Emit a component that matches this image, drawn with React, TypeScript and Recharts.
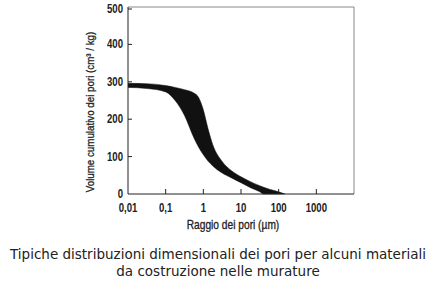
import { ComposedChart, Area, XAxis, YAxis, ReferenceLine } from "recharts";

// pore radius (µm) and the two edges of the cumulative volume band (cm³/kg)
const poreRadius = [0.01, 0.0316, 0.1, 0.178, 0.316, 0.562, 0.75, 1, 1.33, 1.78, 3.16, 5.62, 10, 17.8, 31.6, 40, 56.2, 100, 145];
const volumeLow = [285, 282, 273, 250, 210, 150, 125, 105, 88, 75, 56, 43, 30, 17, 6, 0, 0, 0, 0];
const volumeHigh = [296, 295, 290, 285, 279, 270, 258, 225, 175, 132, 87, 62, 46, 33, 22, 18, 13, 6, 0];

const xTicks = [0.01, 0.1, 1, 10, 100, 1000];
const yTicks = [0, 100, 200, 300, 400, 500];

const data = poreRadius.map((r, i) => ({ r, band: [volumeLow[i], volumeHigh[i]] }));

// Arial Narrow look-alike: Liberation Sans squeezed horizontally
const SANS = "'Liberation Sans', Arial, sans-serif";

function XTick({ x, y, payload }: any) {
  return (
    <g>
      {payload.value !== 0.01 && <line x1={x} x2={x} y1={y} y2={y - 5} stroke="#222" strokeWidth={1} />}
      <text
        transform={`translate(${x},${y + 18}) scale(0.8,1)`}
        textAnchor="middle"
        fontFamily={SANS}
        fontWeight="bold"
        fontSize={12}
        fill="#222"
      >
        {String(payload.value).replace(".", ",")}
      </text>
    </g>
  );
}

function YTick({ x, y, payload }: any) {
  return (
    <g>
      {payload.value !== 0 && <line x1={x} x2={x + 4} y1={y} y2={y} stroke="#222" strokeWidth={1} />}
      <text
        transform={`translate(${x - 5},${y + 4}) scale(0.8,1)`}
        textAnchor="end"
        fontFamily={SANS}
        fontWeight="bold"
        fontSize={12}
        fill="#222"
      >
        {payload.value}
      </text>
    </g>
  );
}

export default function App() {
  return (
    <div style={{ position: "absolute", left: 0, top: 0, width: 436, height: 289, background: "#fff" }}>
      <ComposedChart width={436} height={232} data={data} margin={{ top: 7, right: 82, bottom: 0, left: 0 }}>
        <XAxis
          dataKey="r"
          type="number"
          scale="log"
          domain={[0.01, 10000]}
          ticks={xTicks}
          tick={<XTick />}
          tickSize={0}
          tickMargin={0}
          height={38}
          axisLine={{ stroke: "#222" }}
          allowDataOverflow
          label={{
            content: ({ viewBox }: any) => (
              <text
                transform={`translate(${viewBox.x + viewBox.width / 2 - 8},${viewBox.y + 35}) scale(0.85,1)`}
                textAnchor="middle"
                fontFamily={SANS}
                fontSize={12}
                fill="#222"
                stroke="#222"
                strokeWidth={0.3}
              >
                Raggio dei pori (µm)
              </text>
            ),
          }}
        />
        <YAxis
          type="number"
          domain={[0, 500]}
          ticks={yTicks}
          tick={<YTick />}
          tickSize={0}
          tickMargin={0}
          width={128}
          axisLine={{ stroke: "#222" }}
          label={{
            content: () => (
              <text
                transform="translate(94,112) rotate(-90) scale(0.85,1)"
                textAnchor="middle"
                fontFamily={SANS}
                fontSize={11.5}
                fill="#222"
                stroke="#222"
                strokeWidth={0.3}
              >
                Volume cumulativo dei pori (cm³ / kg)
              </text>
            ),
          }}
        />
        <ReferenceLine y={500} stroke="#888" />
        <ReferenceLine x={10000} stroke="#888" />
        <Area
          type="monotone"
          dataKey="band"
          stroke="#111"
          strokeWidth={0.5}
          fill="#111"
          fillOpacity={1}
          isAnimationActive={false}
        />
      </ComposedChart>
      <div
        style={{
          position: "absolute",
          left: 0,
          top: 246,
          width: 436,
          textAlign: "center",
          fontFamily: "'DejaVu Sans', sans-serif",
          fontSize: 13.5,
          lineHeight: "17px",
          color: "#222",
        }}
      >
        Tipiche distribuzioni dimensionali dei pori per alcuni materiali
        <br />
        da costruzione nelle murature
      </div>
    </div>
  );
}
